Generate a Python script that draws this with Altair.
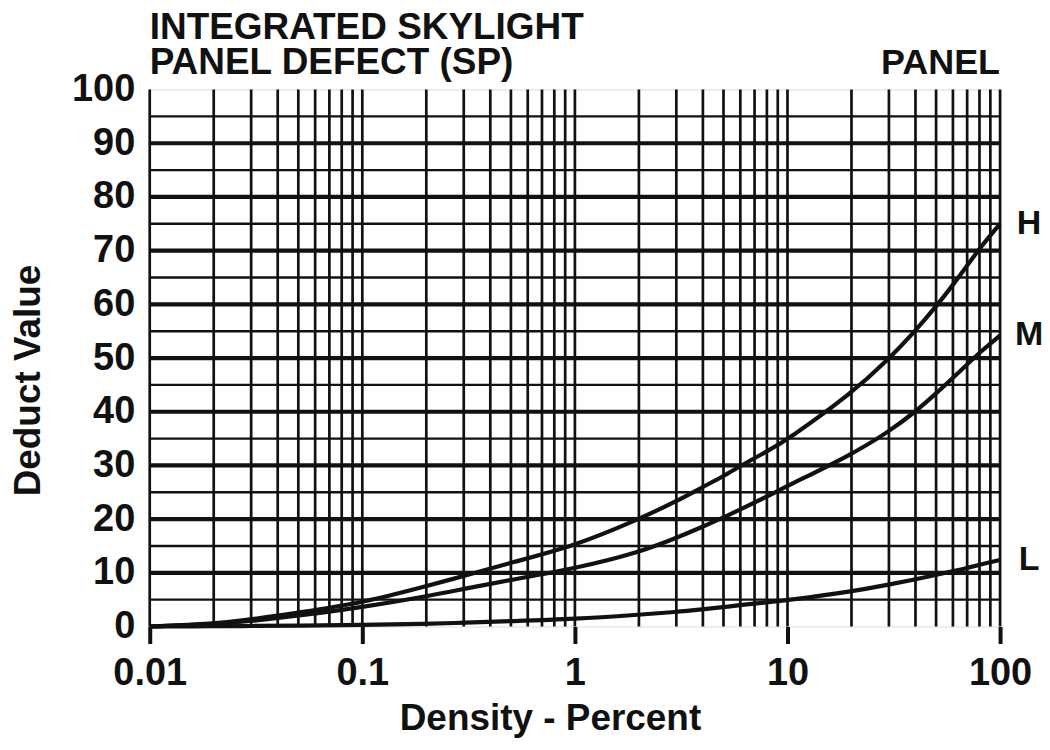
import altair as alt
import pandas as pd

# Curve data
density = [0.01, 0.02, 0.03, 0.05, 0.1, 0.2, 0.3, 0.5, 1, 2, 3, 4, 5, 6, 8, 10,
           20, 30, 40, 50, 60, 70, 80, 100]
deduct_h = [0, 0.5, 1.3, 2.6, 4.4, 7.5, 9.4, 11.9, 15.0, 20.0, 23.3, 26.0, 28.0, 29.9, 32.6, 34.8,
            43.4, 49.8, 55.1, 59.6, 63.6, 67.2, 70.4, 75.0]
deduct_m = [0, 0.4, 1.0, 2.0, 3.6, 5.6, 7.0, 8.7, 10.8, 13.8, 16.5, 18.6, 20.3, 21.8, 24.2, 26.2,
            32.0, 36.3, 40.0, 43.4, 46.3, 48.8, 51.0, 54.2]
deduct_l = [0, 0.05, 0.1, 0.15, 0.3, 0.5, 0.7, 1.0, 1.4, 2.2, 2.7, 3.2, 3.6, 4.0, 4.5, 4.9,
            6.5, 7.8, 8.8, 9.6, 10.3, 10.9, 11.5, 12.4]
severity = ["H", "M", "L"]

# Grid / tick values
grid_x = [0.01, 0.02, 0.03, 0.04, 0.05, 0.06, 0.07, 0.08, 0.09,
          0.1, 0.2, 0.3, 0.4, 0.5, 0.6, 0.7, 0.8, 0.9,
          1, 2, 3, 4, 5, 6, 7, 8, 9,
          10, 20, 30, 40, 50, 60, 70, 80, 90, 100]
grid_y_major = [10, 20, 30, 40, 50, 60, 70, 80, 90]
grid_y_minor = [5, 15, 25, 35, 45, 55, 65, 75, 85, 95]
x_ticks = [0.01, 0.1, 1, 10, 100]
y_ticks = [0, 10, 20, 30, 40, 50, 60, 70, 80, 90, 100]
title_lines = ["INTEGRATED SKYLIGHT", "PANEL DEFECT (SP)"]
corner_label = "PANEL"

FONT = "Liberation Sans"
INK = "#111111"

rows = []
for sev, vals in zip(severity, [deduct_h, deduct_m, deduct_l]):
    for d, v in zip(density, vals):
        rows.append({"x": d, "y": v, "sev": sev})
curves = pd.DataFrame(rows)
ends = curves[curves["x"] == density[-1]]

xs = alt.Scale(type="log", domain=[0.01, 100], nice=False)
ys = alt.Scale(domain=[0, 100], nice=False, zero=True)

x_axis = alt.Axis(values=x_ticks, format="~g", title="Density - Percent", grid=False,
                  domain=False, ticks=True, tickSize=17, tickWidth=4, tickColor=INK,
                  labelFont=FONT, labelFontSize=38, labelFontWeight="bold", labelColor=INK,
                  labelPadding=11, labelFlush=False, labelOverlap=False,
                  titleFont=FONT, titleFontSize=37, titleFontWeight="bold", titleColor=INK,
                  titlePadding=8, titleX=401)
y_axis = alt.Axis(values=y_ticks, title="Deduct Value", grid=False, domain=False, ticks=False,
                  labelFont=FONT, labelFontSize=38, labelFontWeight="bold", labelColor=INK,
                  labelPadding=15, labelFlush=False, labelOverlap=False,
                  titleFont=FONT, titleFontSize=37, titleFontWeight="bold", titleColor=INK,
                  titlePadding=24, titleY=291)

X = alt.X("x:Q", scale=xs, axis=x_axis)
Y = alt.Y("y:Q", scale=ys, axis=y_axis)

vgrid = alt.Chart(pd.DataFrame({"x": grid_x})).mark_rule(color=INK, strokeWidth=2.7).encode(x=X)
hminor = alt.Chart(pd.DataFrame({"y": grid_y_minor})).mark_rule(color=INK, strokeWidth=2.4).encode(y=Y)
hmajor = alt.Chart(pd.DataFrame({"y": grid_y_major})).mark_rule(color=INK, strokeWidth=4.2).encode(y=Y)

lines = alt.Chart(curves).mark_line(color=INK, strokeWidth=4.2, interpolate="basis").encode(
    x=X, y=Y, detail="sev:N")

labels = alt.Chart(ends).mark_text(align="center", baseline="middle", dx=29, font=FONT,
                                   fontSize=34, fontWeight="bold", color=INK).encode(
    x=X, y=Y, text="sev:N")

head = pd.DataFrame({"t": title_lines})
title1 = alt.Chart(head.iloc[[0]]).mark_text(
    align="left", baseline="alphabetic", font=FONT, fontSize=37, fontWeight="bold", color=INK
).encode(x=alt.value(0), y=alt.value(-51), text="t:N")
title2 = alt.Chart(head.iloc[[1]]).mark_text(
    align="left", baseline="alphabetic", font=FONT, fontSize=37, fontWeight="bold", color=INK
).encode(x=alt.value(0), y=alt.value(-16), text="t:N")

corner = alt.Chart(pd.DataFrame({"t": [corner_label]})).mark_text(
    align="right", baseline="alphabetic", font=FONT, fontSize=36, fontWeight="bold", color=INK
).encode(x=alt.value(852), y=alt.value(-16), text="t:N")

chart = alt.layer(vgrid, hminor, hmajor, lines, labels, title1, title2, corner).properties(
    width=852, height=538,
    autosize=alt.AutoSizeParams(type="none"),
    padding={"left": 142, "top": 81, "right": 42, "bottom": 115},
).configure_view(stroke=INK, strokeWidth=5).configure(background="white")

chart.save("out.html", embed_options={"renderer": "svg", "actions": False})
